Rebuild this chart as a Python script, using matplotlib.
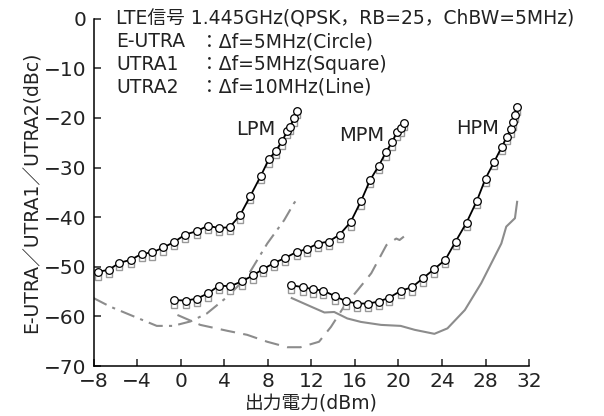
"""
ACLR vs output power (LPM / MPM / HPM)
"""
import matplotlib
matplotlib.use("Agg")
import matplotlib.pyplot as plt

plt.rcParams['font.family'] = ['DejaVu Sans', 'Noto Sans CJK JP']

# E-UTRA (circles)
lpm_x = [-7.6, -6.6, -5.65, -4.6, -3.6, -2.6, -1.6, -0.6, 0.4, 1.5, 2.5, 3.5,
         4.5, 5.45, 6.4, 7.35, 8.1, 8.75, 9.3, 9.8, 10.05, 10.4, 10.65]
lpm_eutra = [-51.0, -50.6, -49.2, -48.6, -47.4, -47.1, -46.1, -45.0, -43.5,
             -42.8, -41.7, -42.2, -42.0, -39.6, -35.7, -31.7, -28.3, -26.6,
             -24.7, -22.6, -21.8, -20.1, -18.6]
lpm_utra1 = [-52.0, -51.5, -50.0, -49.5, -48.3, -48.0, -47.0, -45.8, -44.4,
             -43.6, -42.5, -43.0, -42.8, -40.5, -36.6, -32.6, -29.2, -27.5,
             -25.6, -23.5, -22.7, -21.0, -19.5]

mpm_x = [-0.6, 0.5, 1.5, 2.55, 3.5, 4.55, 5.65, 6.65, 7.6, 8.6, 9.6, 10.65,
         11.6, 12.6, 13.6, 14.6, 15.6, 16.55, 17.4, 18.2, 18.85, 19.4, 19.85,
         20.2, 20.55]
mpm_eutra = [-56.7, -56.8, -56.4, -55.3, -53.8, -53.9, -52.9, -51.7, -50.4,
             -49.2, -48.2, -47.0, -46.4, -45.3, -44.9, -43.5, -41.0, -36.8,
             -32.5, -29.6, -26.9, -24.9, -22.9, -22.1, -21.0]
mpm_utra1 = [-57.7, -57.7, -57.3, -56.2, -54.7, -54.8, -53.8, -52.6, -51.3,
             -50.1, -49.1, -47.9, -47.3, -46.2, -45.8, -44.4, -41.9, -37.7,
             -33.4, -30.5, -27.8, -25.8, -23.8, -23.0, -21.9]

hpm_x = [10.15, 11.2, 12.15, 13.1, 14.15, 15.15, 16.2, 17.2, 18.2, 19.15,
         20.25, 21.25, 22.25, 23.25, 24.3, 25.25, 26.25, 27.2, 28.0, 28.8,
         29.5, 29.95, 30.3, 30.55, 30.75, 30.9]
hpm_eutra = [-53.7, -54.1, -54.5, -54.8, -55.9, -56.9, -57.4, -57.4, -57.0,
             -56.2, -54.8, -54.1, -52.3, -50.5, -48.6, -44.9, -41.1, -36.7,
             -32.2, -28.8, -25.8, -23.8, -22.3, -20.9, -19.4, -17.8]
hpm_utra1 = [-54.6, -55.0, -55.4, -55.7, -56.8, -57.8, -58.3, -58.3, -57.9,
             -57.1, -55.7, -55.0, -53.2, -51.4, -49.5, -45.8, -42.0, -37.6,
             -33.1, -29.7, -26.7, -24.7, -23.2, -21.8, -20.3, -18.7]

# UTRA2 (lines)
lpm_u2_x = [-8, -6.5, -4.3, -2.2, -0.7, 0.9, 2.4, 4.3, 6.1, 7.95, 9.5, 10.4,
            10.7]
lpm_u2 = [-56.3, -58.0, -60.0, -61.9, -61.9, -61.0, -59.4, -56.0, -52.0,
          -45.3, -40.6, -37.2, -36.3]
mpm_u2_x = [-0.3, 1.8, 4.3, 6.1, 7.95, 9.8, 11.0, 12.7, 13.8, 15.0, 16.25,
            17.5, 18.9, 19.8, 20.1, 20.5]
mpm_u2 = [-59.7, -61.7, -62.9, -63.7, -65.1, -66.2, -66.2, -65.1, -62.1,
          -58.0, -54.7, -51.3, -45.6, -44.3, -44.6, -43.9]
hpm_u2_x = [10.2, 11.95, 13.2, 14.1, 15.3, 16.55, 18.4, 20.2, 21.5, 23.3,
            24.5, 26.1, 27.6, 29.45, 29.9, 30.7, 30.9]
hpm_u2 = [-56.3, -58.0, -59.2, -59.1, -60.4, -61.1, -61.7, -61.9, -62.7,
          -63.5, -62.4, -58.7, -53.3, -45.3, -41.9, -40.2, -36.9]

header = "LTE信号 1.445GHz(QPSK，RB=25，ChBW=5MHz)"
legend_names = ["E-UTRA", "UTRA1", "UTRA2"]
legend_desc = ["：Δf=5MHz(Circle)", "：Δf=5MHz(Square)", "：Δf=10MHz(Line)"]

fig = plt.figure(figsize=(6.04, 4.16), dpi=100)
ax = fig.add_axes([0.155, 0.12, 0.721, 0.835])

gray = "#8c8c8c"
txt = "#222222"
ax.plot(lpm_u2_x, lpm_u2, color=gray, lw=1.5, dashes=(7, 3, 1.5, 3))
ax.plot(mpm_u2_x, mpm_u2, color=gray, lw=1.5, dashes=(7, 4))
ax.plot(hpm_u2_x, hpm_u2, color=gray, lw=1.5)

# squares behind, circles with black line on top
for xs, u1, eu in [(lpm_x, lpm_utra1, lpm_eutra),
                   (mpm_x, mpm_utra1, mpm_eutra),
                   (hpm_x, hpm_utra1, hpm_eutra)]:
    ax.plot(xs, u1, ls="none", marker="s", ms=5, mfc="white",
            mec="#999999", mew=1.0)
    ax.plot(xs, eu, color="black", lw=1.3, marker="o", ms=5.5, mfc="white",
            mec="black", mew=0.9)

ax.set_xlim(-8, 32)
ax.set_ylim(-70, 0)
ax.set_xticks(range(-8, 33, 4))
ax.set_yticks(range(-70, 1, 10))
ax.spines["top"].set_visible(False)
ax.spines["right"].set_visible(False)
ax.spines["left"].set_linewidth(1.1)
ax.spines["bottom"].set_linewidth(1.1)
ax.tick_params(direction="in", length=5, width=1.1, labelsize=14.5,
               colors=txt)
ax.tick_params(axis="y", pad=5)
ax.tick_params(axis="x", pad=4)

ax.set_xlabel("出力電力(dBm)", fontsize=13.5, labelpad=3, color=txt)
ax.set_ylabel("E-UTRA／UTRA1／UTRA2(dBc)", fontsize=13.5, labelpad=2,
              color=txt)

# header and legend text
ax.text(-5.95, 0, header, fontsize=13.5, va="center", ha="left", color=txt)
for i in range(3):
    yy = -4.6 * (i + 1)
    ax.text(-5.95, yy, legend_names[i], fontsize=13.5, va="center",
            ha="left", color=txt)
    ax.text(1.8, yy, legend_desc[i], fontsize=13.5, va="center", ha="left",
            color=txt)

ax.text(6.9, -22.3, "LPM", fontsize=14, ha="center", va="center",
        color=txt)
ax.text(16.65, -23.6, "MPM", fontsize=14, ha="center", va="center",
        color=txt)
ax.text(27.3, -22.1, "HPM", fontsize=14, ha="center", va="center",
        color=txt)

fig.savefig("out.png", dpi=100)
